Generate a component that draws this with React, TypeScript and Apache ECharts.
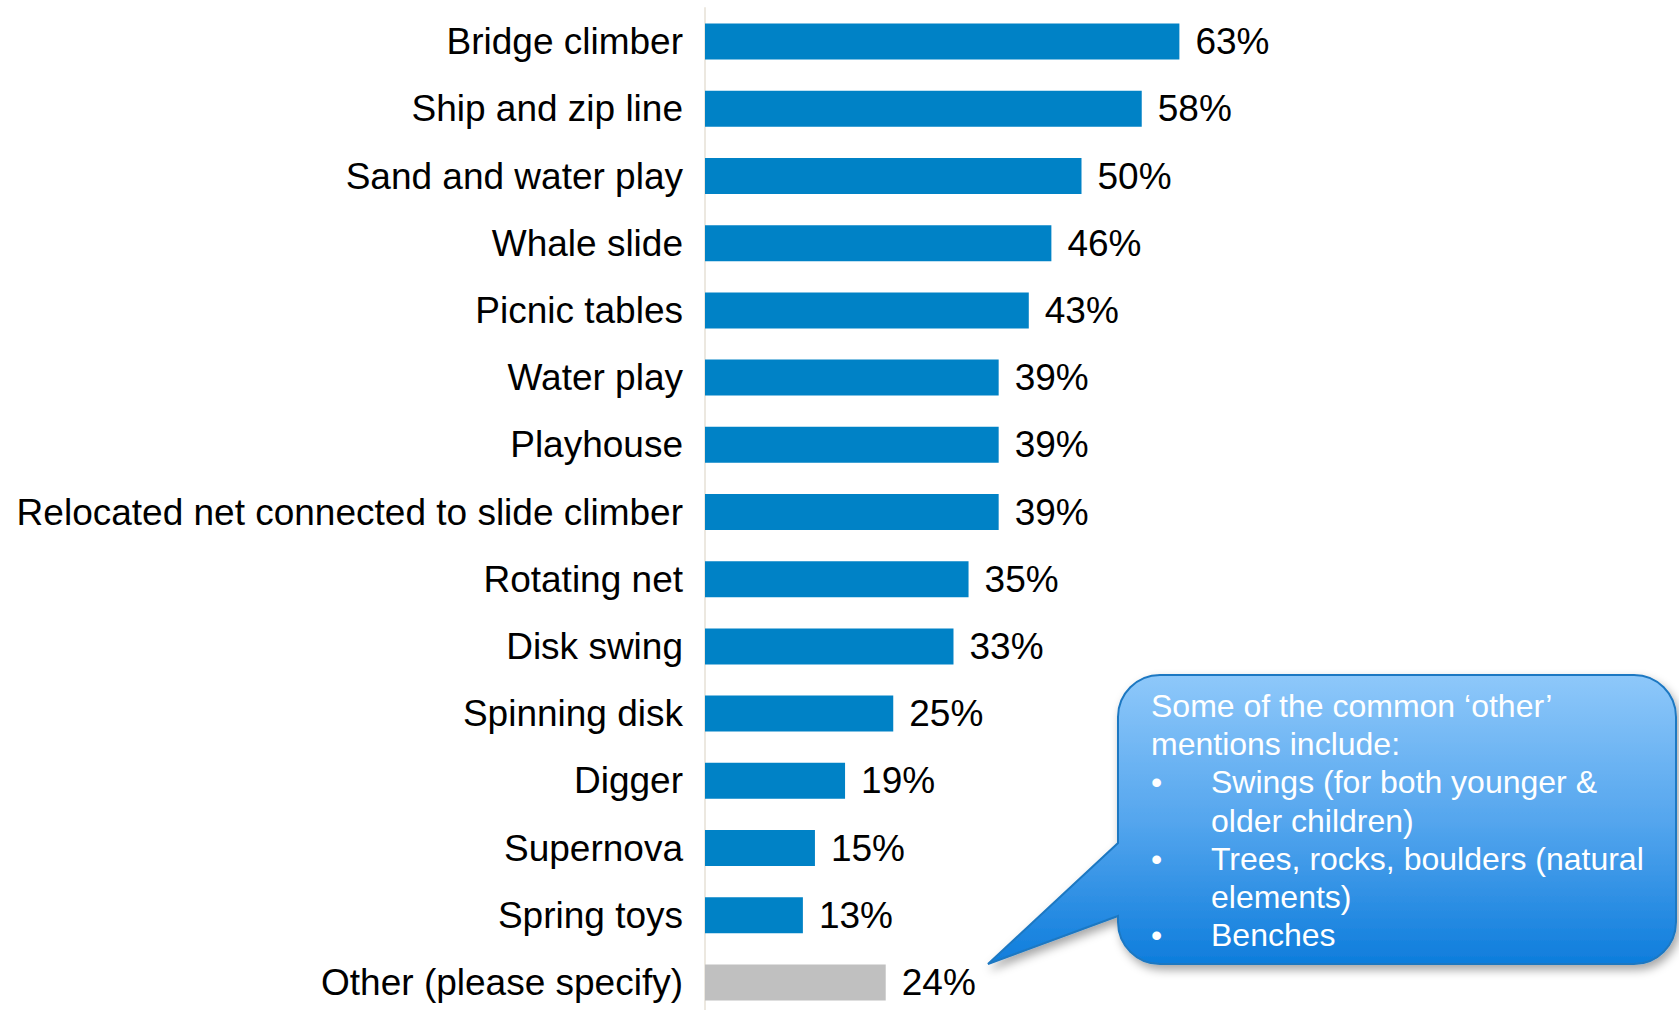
import React, { useEffect, useRef } from "react";
import * as echarts from "echarts";

const categories = [
  "Bridge climber",
  "Ship and zip line",
  "Sand and water play",
  "Whale slide",
  "Picnic tables",
  "Water play",
  "Playhouse",
  "Relocated net connected to slide climber",
  "Rotating net",
  "Disk swing",
  "Spinning disk",
  "Digger",
  "Supernova",
  "Spring toys",
  "Other (please specify)",
];
const values = [63, 58, 50, 46, 43, 39, 39, 39, 35, 33, 25, 18.6, 14.6, 13, 24];
const highlightOther = "Other (please specify)";

const calloutHeader = ["Some of the common \u2018other\u2019", "mentions include:"];
const calloutBullets = [
  ["Swings (for both younger &", "older children)"],
  ["Trees, rocks, boulders (natural", "elements)"],
  ["Benches"],
];

const FONT = "'Liberation Sans', Arial, Helvetica, sans-serif";
const BLUE = "#0082C6";
const GRAY = "#C0C0C0";

// Callout outline (rounded box with a pointer tail)
const L = 1118, T = 675, R = 1676, B = 964, RR = 42;
const calloutPath =
  `M ${L + RR} ${T} L ${R - RR} ${T} A ${RR} ${RR} 0 0 1 ${R} ${T + RR} ` +
  `L ${R} ${B - RR} A ${RR} ${RR} 0 0 1 ${R - RR} ${B} L ${L + RR} ${B} ` +
  `A ${RR} ${RR} 0 0 1 ${L} ${B - RR} L ${L} 916 L 988 964 L ${L} 843 ` +
  `L ${L} ${T + RR} A ${RR} ${RR} 0 0 1 ${L + RR} ${T} Z`;

let registered = false;

export default function App() {
  const ref = useRef<HTMLDivElement>(null);

  useEffect(() => {
    document.body.style.margin = "0";
    document.body.style.overflow = "hidden";
    if (!registered) {
      echarts.graphic.registerShape("callout", echarts.graphic.extendPath(calloutPath, {}) as any);
      registered = true;
    }
    const chart = echarts.init(ref.current!, undefined, { renderer: "svg" });

    const textEls: any[] = [];
    const lineH = 38.2;
    let y = 706;
    calloutHeader.forEach((t) => {
      textEls.push({
        type: "text",
        x: 1151,
        y,
        style: { text: t, fill: "#fff", font: `32px ${FONT}`, verticalAlign: "middle" },
      });
      y += lineH;
    });
    calloutBullets.forEach((lines) => {
      textEls.push({
        type: "text",
        x: 1151,
        y,
        style: { text: "\u2022", fill: "#fff", font: `32px ${FONT}`, verticalAlign: "middle" },
      });
      lines.forEach((t) => {
        textEls.push({
          type: "text",
          x: 1211,
          y,
          style: { text: t, fill: "#fff", font: `32px ${FONT}`, verticalAlign: "middle" },
        });
        y += lineH;
      });
    });

    chart.setOption({
      animation: false,
      backgroundColor: "#ffffff",
      grid: { left: 705, top: 8, width: 753, height: 1008, containLabel: false },
      xAxis: { type: "value", min: 0, max: 100, show: false },
      yAxis: {
        type: "category",
        data: categories,
        inverse: true,
        axisLine: { show: true, lineStyle: { color: "#ECE8E0", width: 2 } },
        axisTick: { show: false },
        splitLine: { show: false },
        axisLabel: {
          fontSize: 37,
          color: "#000",
          fontFamily: FONT,
          margin: 22,
        },
      },
      series: [
        {
          type: "bar",
          barWidth: 36,
          data: values.map((v, i) => ({
            value: v,
            itemStyle: { color: categories[i] === highlightOther ? GRAY : BLUE },
          })),
          label: {
            show: true,
            position: "right",
            distance: 16,
            formatter: (p: any) => `${Math.round(p.value)}%`,
            fontSize: 37,
            color: "#000",
            fontFamily: FONT,
          },
        },
      ],
      graphic: [
        {
          type: "callout",
          x: 0,
          y: 0,
          z: 10,
          style: {
            fill: {
              type: "linear",
              x: 0,
              y: 0,
              x2: 0,
              y2: 1,
              colorStops: [
                { offset: 0, color: "#8EC8FA" },
                { offset: 0.5, color: "#55A6EE" },
                { offset: 1, color: "#0E7DDC" },
              ],
            },
            stroke: "#1E78C2",
            lineWidth: 2,
            shadowBlur: 10,
            shadowOffsetX: 3,
            shadowOffsetY: 5,
            shadowColor: "rgba(0,0,0,0.35)",
          },
        },
        ...textEls.map((e) => ({ ...e, z: 11 })),
      ],
    });

    return () => chart.dispose();
  }, []);

  return (
    <div style={{ width: 1679, height: 1010, overflow: "hidden" }}>
      <div ref={ref} style={{ width: 1679, height: 1024 }} />
    </div>
  );
}
